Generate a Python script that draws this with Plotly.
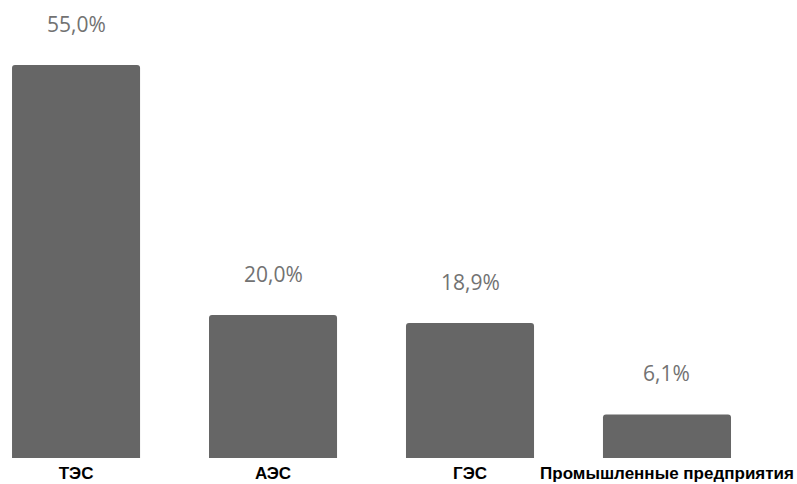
import plotly.graph_objects as go

categories = ["ТЭС", "АЭС", "ГЭС", "Промышленные предприятия"]
values = [55.0, 20.0, 18.9, 6.1]
labels = ["55,0%", "20,0%", "18,9%", "6,1%"]

fig = go.Figure()
fig.add_trace(go.Bar(
    x=list(range(len(categories))),
    y=values,
    width=0.65,
    marker=dict(color="#666666", line=dict(width=0)),
    hoverinfo="skip",
))

for i, (v, t) in enumerate(zip(values, labels)):
    fig.add_annotation(
        x=i, y=v, text=t, showarrow=False,
        yanchor="bottom", yshift=25,
        font=dict(family="Open Sans", size=21, color="#727272"),
    )

fig.update_layout(
    width=797, height=484,
    margin=dict(l=0, r=0, t=0, b=26),
    paper_bgcolor="white", plot_bgcolor="white",
    showlegend=False,
    barcornerradius=3,
    xaxis=dict(
        range=[-0.386, 3.66],
        tickmode="array",
        tickvals=list(range(len(categories))),
        ticktext=categories,
        showgrid=False, zeroline=False, showline=False,
        ticks="",
        ticklabelstandoff=3,
        tickfont=dict(family="Liberation Sans", size=17, color="#000000", weight="bold"),
    ),
    yaxis=dict(
        range=[0, 64.1],
        visible=False,
        showgrid=False, zeroline=False,
    ),
)

fig.write_html("out.html")
